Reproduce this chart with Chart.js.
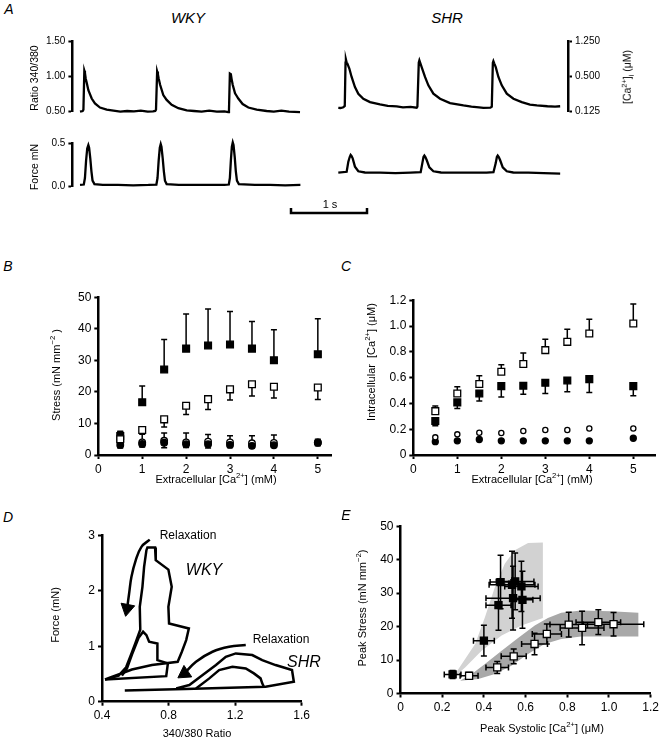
<!DOCTYPE html>
<html>
<head>
<meta charset="utf-8">
<script src="https://cdn.jsdelivr.net/npm/chart.js@4.4.1/dist/chart.umd.min.js"></script>
<style>
html, body { margin: 0; padding: 0; background: #fff; }
body { position: relative; width: 661px; height: 741px; overflow: hidden; font-family: 'Liberation Sans', Arial, sans-serif; }
canvas { position: absolute; }
.lbl { position: absolute; white-space: nowrap; line-height: 1; color: #000; }
.lbl sup, .lbl sub { font-size: 70%; line-height: 0; }
</style>
</head>
<body>
<script>
// ---- Panel A: traces, [time (s), value] ----
const wkyRatio = [[0,0.49],[0.035,0.5],[0.045,0.52],[0.057,1.08],[0.065,1.05],[0.075,0.97],[0.09,0.9],[0.11,0.8],[0.154,0.68],[0.197,0.61],[0.263,0.55],[0.351,0.52],[0.44,0.505],[0.53,0.49],[0.62,0.5],[0.71,0.495],[0.8,0.505],[0.89,0.49],[0.96,0.495],
  [0.99,0.5],[1.0,0.52],[1.015,1.07],[1.025,1.03],[1.035,0.97],[1.055,0.875],[1.096,0.73],[1.14,0.66],[1.206,0.59],[1.294,0.54],[1.404,0.51],[1.5,0.5],[1.6,0.49],[1.7,0.505],[1.8,0.49],[1.9,0.495],[1.95,0.485],
  [1.96,0.5],[1.972,1.04],[1.985,1.03],[1.995,0.96],[2.01,0.875],[2.04,0.755],[2.06,0.72],[2.083,0.68],[2.14,0.6],[2.215,0.55],[2.325,0.52],[2.456,0.5],[2.55,0.49],[2.65,0.505],[2.75,0.49],[2.895,0.485]];
const wkyForce = [[0,0.02],[0.05,0.025],[0.065,0.1],[0.08,0.3],[0.095,0.44],[0.11,0.48],[0.12,0.45],[0.135,0.33],[0.15,0.18],[0.165,0.07],[0.19,0.03],[0.3,0.02],[0.5,0.02],[0.7,0.015],[0.9,0.02],
  [1.005,0.025],[1.02,0.1],[1.035,0.3],[1.05,0.45],[1.062,0.49],[1.072,0.46],[1.088,0.33],[1.103,0.18],[1.118,0.07],[1.14,0.03],[1.3,0.02],[1.5,0.02],[1.7,0.02],[1.9,0.02],
  [1.958,0.025],[1.972,0.1],[1.985,0.3],[1.998,0.46],[2.01,0.51],[2.02,0.48],[2.036,0.34],[2.05,0.18],[2.065,0.07],[2.09,0.03],[2.3,0.02],[2.5,0.02],[2.7,0.015],[2.9,0.02]];
const shrRatio = [[0,0.553],[0.03,0.55],[0.066,0.56],[0.085,0.58],[0.095,1.2],[0.1,1.245],[0.11,1.2],[0.118,1.19],[0.145,1.116],[0.175,0.995],[0.219,0.851],[0.263,0.755],[0.329,0.683],[0.417,0.634],[0.548,0.601],[0.65,0.58],[0.768,0.572],[0.85,0.56],[0.95,0.565],[1.03,0.555],
  [1.04,0.57],[1.058,1.2],[1.066,1.232],[1.076,1.2],[1.096,1.136],[1.14,0.995],[1.184,0.875],[1.25,0.755],[1.338,0.683],[1.469,0.62],[1.645,0.587],[1.75,0.57],[1.85,0.56],[1.908,0.553],[2.0,0.555],
  [2.018,0.57],[2.032,1.2],[2.039,1.222],[2.05,1.19],[2.07,1.136],[2.105,0.995],[2.149,0.875],[2.215,0.755],[2.303,0.683],[2.412,0.634],[2.52,0.6],[2.61,0.587],[2.75,0.575],[2.85,0.57],[2.917,0.575]];
const shrForce = [[0,0.02],[0.11,0.03],[0.132,0.147],[0.15,0.2],[0.162,0.224],[0.175,0.21],[0.189,0.185],[0.219,0.089],[0.263,0.036],[0.35,0.022],[0.55,0.02],[0.75,0.015],[0.95,0.02],
  [1.083,0.025],[1.105,0.13],[1.12,0.2],[1.132,0.216],[1.145,0.2],[1.162,0.166],[1.197,0.082],[1.25,0.036],[1.35,0.022],[1.55,0.02],[1.75,0.02],[1.95,0.02],[2.04,0.025],
  [2.07,0.13],[2.085,0.2],[2.096,0.216],[2.11,0.2],[2.127,0.166],[2.162,0.082],[2.215,0.036],[2.3,0.022],[2.5,0.02],[2.7,0.015],[2.917,0.01]];
const scaleBar = [[0,1],[0,0],[1,0],[1,1]];
const ratioTicks = [0.5, 1, 1.5];
const caTickLabels = ['0.125', '0.500', '1.250'];

// ---- Panels B and C: extracellular Ca (mM) ----
const extCa = [0.5, 1, 1.5, 2, 2.5, 3, 3.5, 4, 5];
const stressFilledSq = [6, 16.7, 27.1, 33.7, 34.7, 35, 33.7, 30, 31.9];
const stressFilledSqErr = [1.5, 5.2, 9.5, 11, 11.6, 10.5, 8.6, 9.7, 11.3];
const stressOpenSq = [5, 7.9, 11.3, 15.6, 17.7, 20.8, 22.4, 21.6, 21.4];
const stressOpenSqErr = [1, 0, 2.4, 2.8, 3.3, 3.4, 3.7, 3.5, 3.8];
const stressOpenCirc = [4.4, 4, 4.5, 4, 4.2, 4, 3.7, 3.8, 4];
const stressOpenCircErr = [3, 2.6, 2.5, 3, 2.3, 2.1, 2.4, 2.5, 1];
const stressFilledCirc = [3.2, 3.5, 3.9, 3.4, 3.4, 3.2, 2.9, 3.1, 3.9];
const stressFilledCircErr = [1, 1, 1.6, 1, 1.2, 0.8, 0.6, 0.6, 1];
const intraOpenSq = [0.34, 0.477, 0.55, 0.645, 0.705, 0.813, 0.877, 0.942, 1.02];
const intraOpenSqErr = [0.04, 0.053, 0.064, 0.055, 0.085, 0.085, 0.098, 0.111, 0.15];
const intraFilledSq = [0.263, 0.408, 0.477, 0.534, 0.537, 0.56, 0.578, 0.588, 0.534];
const intraFilledSqErr = [0.036, 0.048, 0.059, 0.084, 0.067, 0.083, 0.088, 0.103, 0.074];
const intraOpenCirc = [0.137, 0.16, 0.173, 0.17, 0.186, 0.194, 0.194, 0.206, 0.206];
const intraFilledCirc = [0.103, 0.11, 0.12, 0.11, 0.11, 0.11, 0.11, 0.11, 0.13];

// ---- Panel D: force vs 340/380 ratio loops ----
const wkyLoopA = [[0.418,0.40],[0.50,0.47],[0.545,0.62],[0.575,0.85],[0.60,1.05],[0.63,1.3],[0.627,1.71],[0.643,2.07],[0.653,2.43],[0.667,2.73],[0.673,2.78],[0.719,2.78],[0.723,2.55],[0.799,2.38],[0.819,2.07],[0.799,1.71],[0.803,1.41],[0.922,1.32],[0.906,1.11],[0.88,0.90],[0.855,0.72],[0.70,0.66],[0.58,0.58],[0.418,0.40]];
const wkyLoopB = [[0.418,0.40],[0.786,0.46],[0.796,0.69],[0.733,0.75],[0.733,1.05],[0.683,1.08],[0.667,1.2],[0.647,1.26],[0.62,1.15],[0.58,0.85],[0.55,0.6],[0.52,0.47]];
const shrLoopA = [[0.537,0.20],[0.9,0.23],[1.383,0.27],[1.553,0.36],[1.542,0.57],[1.443,0.66],[1.363,0.75],[1.303,0.84],[1.204,0.87],[1.144,0.81],[1.085,0.66],[1.005,0.48],[0.925,0.30],[0.846,0.24]];
const shrLoopB = [[0.965,0.24],[1.045,0.42],[1.104,0.57],[1.184,0.63],[1.264,0.60],[1.313,0.51],[1.353,0.42],[1.363,0.33],[1.373,0.27]];
const wkyArrow = [[0.687,2.92],[0.637,2.79],[0.603,2.55],[0.577,2.25],[0.563,1.95],[0.551,1.68]];
const shrArrow = [[1.264,1.02],[1.164,0.99],[1.064,0.90],[0.965,0.72],[0.896,0.51]];

// ---- Panel E: peak stress vs peak systolic Ca ----
const eWkyCa = [0.25, 0.40, 0.47, 0.48, 0.535, 0.55, 0.54, 0.58, 0.585];
const eWkyCaErr = [0.04, 0.05, 0.06, 0.05, 0.11, 0.09, 0.13, 0.08, 0.05];
const eWkyStress = [5.7, 15.8, 26.4, 33.3, 32.5, 33.5, 28.5, 32, 28];
const eWkyStressErr = [1.2, 4.6, 7.5, 8, 10, 8.5, 9.5, 7.5, 8.5];
const eShrCa = [0.329, 0.464, 0.543, 0.643, 0.702, 0.807, 0.871, 0.949, 1.022];
const eShrCaErr = [0.043, 0.054, 0.06, 0.062, 0.07, 0.09, 0.105, 0.107, 0.145];
const eShrStress = [5.3, 7.8, 11.1, 14.8, 17.8, 20.6, 19.6, 21.3, 20.7];
const eShrStressErr = [1, 1.8, 2.2, 3.2, 3, 3.7, 5, 3.7, 3.5];
const wkyBand = [[0.246,4.3],[0.31,7.8],[0.389,12.8],[0.485,17.3],[0.58,20.3],[0.683,22.6],[0.683,45.1],[0.612,45],[0.548,42.8],[0.50,38.8],[0.453,31.8],[0.405,22.8],[0.358,14.8],[0.294,8.8],[0.246,4.3]];
const shrBand = [[0.286,3.8],[0.373,4.3],[0.453,5.8],[0.532,8.3],[0.612,11.8],[0.691,14.8],[0.771,16.3],[0.866,17],[0.961,17],[1.141,17],[1.141,24.1],[1.009,24.6],[0.866,24.8],[0.771,24.1],[0.707,22.6],[0.644,20.3],[0.564,16.6],[0.485,12.8],[0.405,8.8],[0.342,5.8],[0.286,3.8]];

Chart.defaults.font.family = "'Liberation Sans', Arial, sans-serif";
Chart.defaults.font.size = 12;
Chart.defaults.color = '#000';
Chart.defaults.animation = false;
Chart.defaults.events = [];
Chart.defaults.plugins.legend.display = false;
Chart.defaults.plugins.tooltip.enabled = false;

const pairs = arr => arr.map(([x, y]) => ({ x, y }));
const zip = (xs, ys) => xs.map((x, i) => ({ x, y: ys[i] }));

// Error bars drawn just before their own dataset so markers sit on top
const errorBars = {
    id: 'errorBars',
    beforeDatasetDraw(chart, args) {
        const ds = chart.data.datasets[args.index];
        if (!ds.err) return;
        const sx = chart.scales.x, sy = chart.scales.y, ctx = chart.ctx;
        const e = ds.err, cap = e.cap || 3;
        ctx.save();
        ctx.strokeStyle = '#000';
        ctx.lineWidth = e.width || 1.5;
        ctx.beginPath();
        ds.data.forEach((p, i) => {
            const px = sx.getPixelForValue(p.x), py = sy.getPixelForValue(p.y);
            const up = e.up ? e.up[i] : 0, dn = e.down ? e.down[i] : 0, xe = e.x ? e.x[i] : 0;
            if (up > 0) {
                const t = sy.getPixelForValue(p.y + up);
                ctx.moveTo(px, py); ctx.lineTo(px, t);
                ctx.moveTo(px - cap, t); ctx.lineTo(px + cap, t);
            }
            if (dn > 0) {
                const b = sy.getPixelForValue(p.y - dn);
                ctx.moveTo(px, py); ctx.lineTo(px, b);
                ctx.moveTo(px - cap, b); ctx.lineTo(px + cap, b);
            }
            if (xe > 0) {
                const l = sx.getPixelForValue(p.x - xe), r = sx.getPixelForValue(p.x + xe);
                ctx.moveTo(l, py); ctx.lineTo(r, py);
                ctx.moveTo(l, py - cap); ctx.lineTo(l, py + cap);
                ctx.moveTo(r, py - cap); ctx.lineTo(r, py + cap);
            }
        });
        ctx.stroke();
        ctx.restore();
    }
};

function axis(min, max, ticks, fmt, size = 12) {
    return {
        type: 'linear', min, max,
        border: { display: true, width: 2.5, color: '#000' },
        grid: { drawOnChartArea: false, drawTicks: true, tickLength: 4, tickWidth: 2, tickColor: '#000' },
        ticks: { padding: 3, font: { size }, callback: fmt },
        afterBuildTicks: s => { s.ticks = ticks.map(v => ({ value: v })); }
    };
}
const hidden = (min, max) => ({ type: 'linear', min, max, display: false });

// box: chart area in page pixels plus axis sizes
function makeChart(box, datasets, scales) {
    const pad = 10, yw = box.yw || 0, xh = box.xh || 0;
    const left = Math.floor(box.right ? box.x0 - pad : box.x0 - yw - pad);
    const top = Math.floor(box.y0 - pad);
    const width = Math.ceil(box.x1 + pad + (box.right ? yw : 0)) - left;
    const height = Math.ceil(box.y1 + xh + pad) - top;
    const c = document.createElement('canvas');
    c.width = width; c.height = height;
    c.style.left = left + 'px'; c.style.top = top + 'px';
    c.style.width = width + 'px'; c.style.height = height + 'px';
    document.body.appendChild(c);
    if (scales.y.display !== false) scales.y.afterFit = s => { s.width = yw; };
    if (scales.x.display !== false) scales.x.afterFit = s => { s.height = xh; };
    const padding = {
        left: box.right ? box.x0 - left : box.x0 - yw - left,
        right: left + width - box.x1 - (box.right ? yw : 0),
        top: box.y0 - top,
        bottom: top + height - box.y1 - xh
    };
    return new Chart(c, {
        type: 'line',
        data: { datasets },
        options: { responsive: false, layout: { padding }, scales },
        plugins: [errorBars]
    });
}

const trace = (arr, w = 2.3) => ({ data: pairs(arr), borderColor: '#000', borderWidth: w, pointRadius: 0, tension: 0, clip: false });
const marks = (data, style, filled, r, err) => ({
    data, showLine: false, pointStyle: style, pointRadius: r,
    pointBackgroundColor: filled ? '#000' : '#fff', pointBorderColor: '#000', pointBorderWidth: 1.3, clip: false, err
});

// ---------- Panel A ----------
makeChart({ x0: 72.4, x1: 300.4, y0: 41.7, y1: 111, yw: 45 }, [trace(wkyRatio)], {
    x: hidden(-0.1, 2.9),
    y: axis(0.5, 1.5, ratioTicks, v => v.toFixed(2), 10)
});
makeChart({ x0: 72.4, x1: 300.4, y0: 143.3, y1: 186.7, yw: 45 }, [trace(wkyForce)], {
    x: hidden(-0.1, 2.9),
    y: axis(0, 0.5, [0, 0.5], v => v.toFixed(1), 10)
});
const shrRatioAxis = axis(0.5, 1.5, ratioTicks, v => caTickLabels[ratioTicks.indexOf(v)], 10);
shrRatioAxis.position = 'right';
makeChart({ x0: 338.3, x1: 568, y0: 41.7, y1: 111.5, yw: 45, right: true }, [trace(shrRatio)], {
    x: hidden(0, 3.02),
    y: shrRatioAxis
});
makeChart({ x0: 338.3, x1: 568, y0: 131, y1: 174.4 }, [trace(shrForce)], {
    x: hidden(0, 3.02),
    y: hidden(0, 0.5)
});
makeChart({ x0: 291, x1: 367, y0: 208, y1: 213 }, [trace(scaleBar, 2.5)], {
    x: hidden(0, 1),
    y: hidden(0, 1)
});

// ---------- Panel B ----------
makeChart({ x0: 98.3, x1: 331, y0: 297, y1: 455, yw: 40, xh: 20 }, [
    marks(zip(extCa, stressOpenSq), 'rect', false, 4.8, { down: stressOpenSqErr }),
    marks(zip(extCa, stressFilledSq), 'rect', true, 4.8, { up: stressFilledSqErr }),
    marks(zip(extCa, stressFilledCirc), 'circle', true, 3.3, { down: stressFilledCircErr }),
    marks(zip(extCa, stressOpenCirc), 'circle', false, 3.3, { up: stressOpenCircErr })
], {
    x: axis(0, 5.3, [0, 1, 2, 3, 4, 5], v => String(v)),
    y: axis(0, 50, [0, 10, 20, 30, 40, 50], v => String(v))
});

// ---------- Panel C ----------
makeChart({ x0: 413.3, x1: 655.3, y0: 300, y1: 455, yw: 40, xh: 20 }, [
    marks(zip(extCa, intraOpenSq), 'rect', false, 4.8, { up: intraOpenSqErr }),
    marks(zip(extCa, intraFilledSq), 'rect', true, 4.8, { down: intraFilledSqErr }),
    marks(zip(extCa, intraOpenCirc), 'circle', false, 2.6),
    marks(zip(extCa, intraFilledCirc), 'circle', true, 3)
], {
    x: axis(0, 5.5, [0, 1, 2, 3, 4, 5], v => String(v)),
    y: axis(0, 1.2, [0, 0.2, 0.4, 0.6, 0.8, 1.0, 1.2], v => v === 0 ? '0' : v.toFixed(1))
});

// ---------- Panel D ----------
const arrowSet = (arr, rot) => ({
    data: pairs(arr), borderColor: '#000', borderWidth: 2.5, tension: 0.4, clip: false,
    pointStyle: 'triangle', pointBackgroundColor: '#000', pointBorderColor: '#000', pointBorderWidth: 1,
    pointRadius: arr.map((p, i) => i === arr.length - 1 ? 8 : 0),
    pointRotation: rot
});
makeChart({ x0: 102, x1: 303, y0: 535, y1: 701.7, yw: 40, xh: 20 }, [
    trace(wkyLoopA, 2.5), trace(wkyLoopB, 2.5), trace(shrLoopA, 2.5), trace(shrLoopB, 2.5),
    arrowSet(wkyArrow, 191), arrowSet(shrArrow, 236)
], {
    x: axis(0.4, 1.6, [0.4, 0.8, 1.2, 1.6], v => v.toFixed(1)),
    y: axis(0, 3, [0, 1, 2, 3], v => String(v))
});

// ---------- Panel E ----------
const band = (arr, color) => ({ data: pairs(arr), borderWidth: 0, borderColor: 'rgba(0,0,0,0)', backgroundColor: color, fill: 'shape', pointRadius: 0, tension: 0, order: 5 });
makeChart({ x0: 400.5, x1: 651.7, y0: 526, y1: 693.5, yw: 40, xh: 20 }, [
    marks(zip(eShrCa, eShrStress), 'rect', false, 5, { up: eShrStressErr, down: eShrStressErr, x: eShrCaErr }),
    marks(zip(eWkyCa, eWkyStress), 'rect', true, 5, { up: eWkyStressErr, down: eWkyStressErr, x: eWkyCaErr }),
    band(wkyBand, '#d2d2d2'),
    band(shrBand, '#a8a8a8')
], {
    x: axis(0, 1.2, [0, 0.2, 0.4, 0.6, 0.8, 1.0, 1.2], v => v === 0 ? '0' : v.toFixed(1)),
    y: axis(0, 50, [0, 10, 20, 30, 40, 50], v => String(v))
});

// ---------- Text ----------
function txt(html, x, y, o = {}) {
    const d = document.createElement('div');
    d.className = 'lbl';
    d.innerHTML = html;
    d.style.left = x + 'px';
    d.style.top = y + 'px';
    d.style.fontSize = (o.size || 11) + 'px';
    if (o.italic) d.style.fontStyle = 'italic';
    d.style.transform = 'translate(-50%,-50%)' + (o.rot ? ' rotate(-90deg)' : '');
    document.body.appendChild(d);
}
const CA = '[Ca<sup>2+</sup>]';
txt('A', 9, 9, { size: 14, italic: true });
txt('B', 8, 266, { size: 14, italic: true });
txt('C', 346, 266, { size: 14, italic: true });
txt('D', 8, 517, { size: 14, italic: true });
txt('E', 346, 515, { size: 14, italic: true });
txt('WKY', 188, 17, { size: 15, italic: true });
txt('SHR', 447, 17, { size: 15, italic: true });
txt('Ratio 340/380', 34, 78, { rot: true, size: 10.5 });
txt('Force mN', 34, 167, { rot: true, size: 10.5 });
txt(CA + '<sub>i</sub> (&mu;M)', 627, 77, { rot: true, size: 10.5 });
txt('1 s', 330, 204);
txt('Stress (mN mm<sup>&minus;2</sup> )', 56, 375, { rot: true });
txt('Extracellular ' + CA + ' (mM)', 216, 479);
txt('Intracellular&nbsp; ' + CA + ' (&mu;M)', 371, 362, { rot: true });
txt('Extracellular ' + CA + ' (mM)', 532, 479);
txt('Force (mN)', 55, 615, { rot: true });
txt('340/380 Ratio', 197, 733);
txt('Relaxation', 188, 535, { size: 12 });
txt('WKY', 204, 570, { size: 16, italic: true });
txt('Relaxation', 281, 639, { size: 12 });
txt('SHR', 304, 662, { size: 16, italic: true });
txt('Peak Stress (mN mm<sup>&minus;2</sup>)', 362, 608, { rot: true });
txt('Peak Systolic ' + CA + ' (&mu;M)', 542, 728);
</script>
</body>
</html>
